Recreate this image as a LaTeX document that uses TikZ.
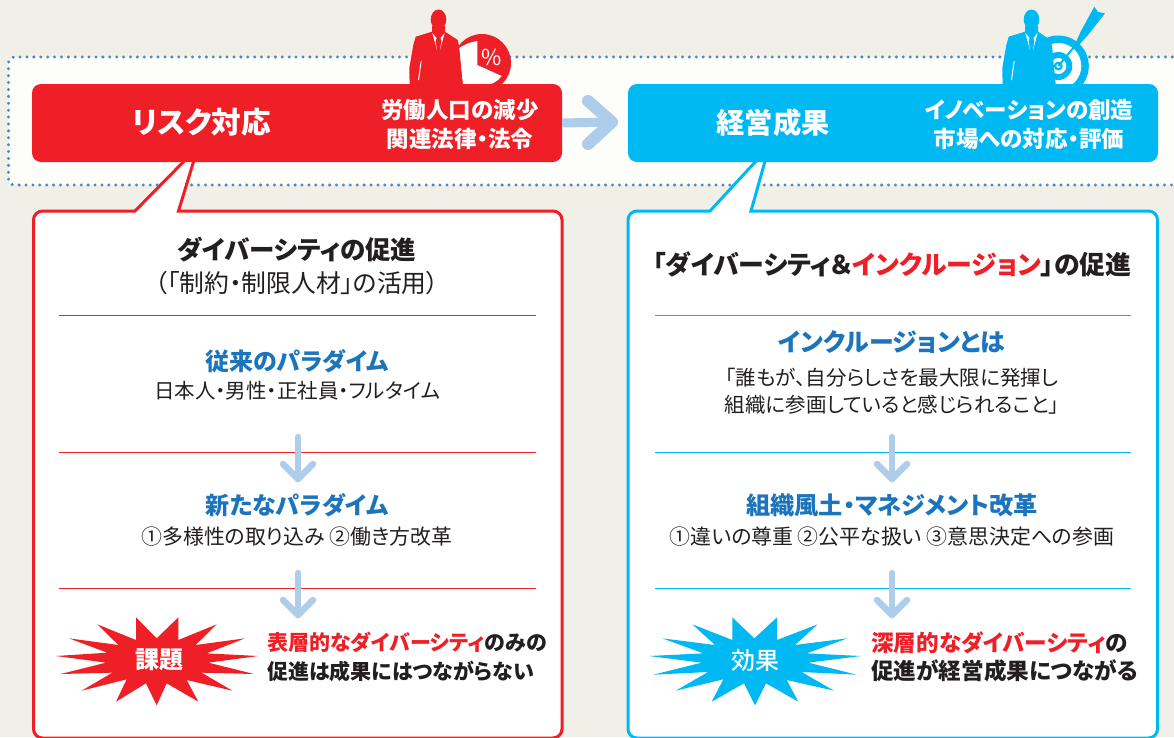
\documentclass[tikz,border=0pt]{standalone}
\usepackage{fontspec}
\setmainfont[RawFeature=+palt]{Noto Sans CJK JP}
\newfontfamily\medjp[RawFeature=+palt]{Noto Sans CJK JP Medium}
\usetikzlibrary{positioning}
\definecolor{paper}{HTML}{F1F0E8}
\definecolor{bandwhite}{HTML}{FDFDFA}
\definecolor{frameblue}{HTML}{4F86C6}
\definecolor{riskred}{HTML}{EE1F26}
\definecolor{resultcyan}{HTML}{00B9F2}
\definecolor{arrowblue}{HTML}{AECDEB}
\definecolor{titleblue}{HTML}{1C75BC}
\definecolor{inkdark}{HTML}{231F20}
\newcommand{\fsz}[1]{\fontsize{#1}{#1}\selectfont}
\tikzset{
    barbox/.style={rounded corners=9pt},
    txt/.style={inner sep=0pt, text=inkdark, align=center},
    head/.style={txt, font=\fsz{#1}\bfseries},
    body/.style={txt, font=\fsz{#1}},
    bartxt/.style={inner sep=0pt, text=white, align=center, font=\fsz{#1}\bfseries},
    bigarrow/.style={draw=arrowblue, line width=9pt},
    smallarrow/.style={draw=arrowblue, line width=6.5pt, line cap=round, line join=round},
    sepline/.style={line width=0.9pt},
}
\begin{document}
\begin{tikzpicture}[x=1pt, y=-1pt]
    \useasboundingbox (0,0) rectangle (1174,737);
    \fill[paper] (0,0) rectangle (1174,737);
    \clip (0,0) rectangle (1174,737);
    % dotted band
    \fill[bandwhite, rounded corners=6pt] (8.5,57) rectangle (1200,185);
    \draw[frameblue, line width=3.2pt, line cap=round, dash pattern=on 0.1pt off 6.8pt, rounded corners=6pt] (1200,57) -- (8.5,57) -- (8.5,185) -- (1200,185);
    % speech boxes
    \draw[riskred, fill=white, line width=3pt] (135,211) -- (198,147) -- (178.5,211) [rounded corners=9pt] -- (562,211) -- (562,738) -- (33.5,738) -- (33.5,211) [sharp corners] -- cycle;
    \draw[resultcyan, fill=white, line width=3pt] (710,211) -- (769,147) -- (751,211) [rounded corners=9pt] -- (1157.5,211) -- (1157.5,738) -- (628,738) -- (628,211) [sharp corners] -- cycle;
    % man with pie
    \fill[riskred] (482,63) circle (29);
    \fill[white] (477.3,65) -- (477.3,41) .. controls (470,42) and (464,45) .. (459,48) -- (463,86) .. controls (475,90) and (495,86) .. (501.7,76) -- cycle;
    \fill[riskred] (438.5,19.5) ellipse (7.8 and 10);
    \fill[riskred] (432,26) -- (445,26) -- (445,31.7) -- (457.7,40) -- (459.3,48) -- (461,68) -- (463.3,90) -- (409.7,90) -- (409.3,68) -- (413.3,45) -- (415.7,36.7) -- (432,31.7) -- cycle;
    \fill[white] (432.3,33) -- (436.5,38) -- (435.5,41) -- (437,50) -- cycle;
    \fill[white] (444.7,33) -- (440.5,38) -- (441.5,41) -- (440,50) -- cycle;
    \fill[white] (420.7,61) -- (421.7,61) -- (419,80) -- (418,80) -- cycle;
    \node[inner sep=0pt, text=white, font=\fsz{22}] (pctmark) at (492,57.5) {\%};
    % man with target
    \fill[resultcyan] (1076,42) -- (1081,31) -- (1094.3,6.7) -- (1098,12) -- (1105,13.3) -- (1088,35) -- (1079,45) -- cycle;
    \fill[resultcyan] (1058.3,66) circle (30.5);
    \fill[white] (1058.3,66) circle (23);
    \fill[resultcyan] (1058.3,66) circle (14);
    \fill[white] (1058.3,66) circle (8);
    \fill[resultcyan] (1058.3,66) circle (4.5);
    \fill[white] (1058.3,66) circle (2);
    \draw[resultcyan, line width=2pt] (1058.3,66) -- (1079,41);
    \fill[resultcyan] (1031.5,19.5) ellipse (7.8 and 10);
    \fill[resultcyan] (1025,26) -- (1038,26) -- (1038,31.7) -- (1050.7,40) -- (1052.3,48) -- (1054,68) -- (1056.3,90) -- (1002.7,90) -- (1002.3,68) -- (1006.3,45) -- (1008.7,36.7) -- (1025,31.7) -- cycle;
    \fill[white] (1025.3,33) -- (1029.5,38) -- (1028.5,41) -- (1030,50) -- cycle;
    \fill[white] (1037.7,33) -- (1033.5,38) -- (1034.5,41) -- (1033,50) -- cycle;
    \fill[white] (1013.7,61) -- (1014.7,61) -- (1012,80) -- (1011,80) -- cycle;
    % top bars
    \node[barbox, fill=riskred, minimum width=530pt, minimum height=78pt, inner sep=0pt] (riskbar) at (297,123) {};
    \node[barbox, fill=resultcyan, minimum width=530pt, minimum height=78pt, inner sep=0pt] (resultbar) at (893,123) {};
    \node[bartxt=29.6] (risktitle) at (201.5,122.5) {リスク対応};
    \node[bartxt=28.3] (resulttitle) at (773,122.5) {経営成果};
    \node[bartxt=22.5] (risknote) at (460,124.5) {労働人口の減少\\[6.5pt]関連法律・法令};
    \node[bartxt=22.5] (resultnote) at (1029,124.5) {イノベーションの創造\\[6.5pt]市場への対応・評価};
    % big arrow
    \coordinate (bigtip) at (612,122);
    \coordinate (bigup) at (588,101);
    \coordinate (bigdown) at (588,144);
    \draw[bigarrow] (riskbar.east) -- (bigtip);
    \draw[smallarrow, line width=12pt] (bigup) -- (bigtip) -- (bigdown);
    % left box text
    \node[head=25.5] (ltitle) at (297,250) {ダイバーシティの促進};
    \node[body=24.8] (lsub) at (297,283) {（「制約・制限人材」の活用）};
    \node[head=24, text=titleblue] (lold) at (297,361) {従来のパラダイム};
    \node[body=20.5] (lolddesc) at (297,391) {日本人・男性・正社員・フルタイム};
    \node[head=24, text=titleblue] (lnew) at (297,505) {新たなパラダイム};
    \node[body=20.9] (lnewdesc) at (297,537) {①多様性の取り込み ②働き方改革};
    % right box text
    \node[head=25.9] (rtitle) at (892,264) {「ダイバーシティ＆\textcolor{riskred}{インクルージョン}」の促進};
    \node[head=24.9, text=titleblue] (rinc) at (892,342) {インクルージョンとは};
    \node[body=20.5] (rincdesc) at (892,391) {「誰もが、自分らしさを最大限に発揮し\\[6pt]組織に参画していると感じられること」};
    \node[head=24.2, text=titleblue] (rcult) at (892,505) {組織風土・マネジメント改革};
    \node[body=20.9] (rcultdesc) at (892,537) {①違いの尊重 ②公平な扱い ③意思決定への参画};
    % separators
    \foreach \ypos in {315,452,588} {
        \coordinate (lsepa) at (59,\ypos);
        \coordinate (lsepb) at (535.5,\ypos);
        \coordinate (rsepa) at (655,\ypos);
        \coordinate (rsepb) at (1130.5,\ypos);
        \draw[sepline, riskred] (lsepa) -- (lsepb);
        \draw[sepline, resultcyan] (rsepa) -- (rsepb);
    }
    % down arrows
    \foreach \xpos/\ytop in {298/437, 298/573, 892/437, 892/573} {
        \coordinate (dntop) at (\xpos,\ytop);
        \coordinate (dntip) at (\xpos,\ytop+42);
        \coordinate (dnl) at (\xpos-15,\ytop+27);
        \coordinate (dnr) at (\xpos+15,\ytop+27);
        \draw[smallarrow] (dntop) -- (dntip);
        \draw[smallarrow] (dnl) -- (dntip) -- (dnr);
    }
    % bursts
    \begin{scope}[shift={(30,600)}, scale=1/3]
        \fill[riskred] (318,52) -- (380,115) -- (445,52) -- (445,120) -- (560,73) -- (497,135) -- (645,115) -- (530,160) -- (685,168) -- (535,188) -- (672,222) -- (515,218) -- (607,272) -- (470,240) -- (505,305) -- (410,250) -- (380,316) -- (348,250) -- (258,305) -- (290,238) -- (155,272) -- (247,218) -- (92,222) -- (228,188) -- (78,168) -- (232,158) -- (117,115) -- (265,135) -- (202,73) -- (318,120) -- cycle;
    \end{scope}
    \begin{scope}[shift={(630,600)}, scale=1/3]
        \fill[resultcyan] (307,52) -- (373,115) -- (441,52) -- (441,120) -- (563,73) -- (495,135) -- (652,115) -- (530,160) -- (693,168) -- (535,188) -- (680,224) -- (515,216) -- (612,272) -- (470,240) -- (505,305) -- (408,250) -- (375,316) -- (342,250) -- (245,305) -- (280,238) -- (137,272) -- (234,216) -- (70,224) -- (215,188) -- (57,168) -- (220,160) -- (97,115) -- (255,135) -- (187,73) -- (307,120) -- cycle;
    \end{scope}
    \node[bartxt=24] (lburst) at (159,660) {課題};
    \node[inner sep=0pt, text=white, font=\fsz{24}\medjp] (rburst) at (755,660) {効果};
    % bottom text
    \node[txt, align=left, anchor=west, font=\fsz{21}\bfseries] (lend) at (267,657) {\textcolor{riskred}{表層的なダイバーシティ}のみの\\[7.5pt]促進は成果にはつながらない};
    \node[txt, align=left, anchor=west, font=\fsz{22.6}\bfseries] (rend) at (871,657) {\textcolor{riskred}{深層的なダイバーシティ}の\\[6pt]促進が経営成果につながる};
\end{tikzpicture}
\end{document}
